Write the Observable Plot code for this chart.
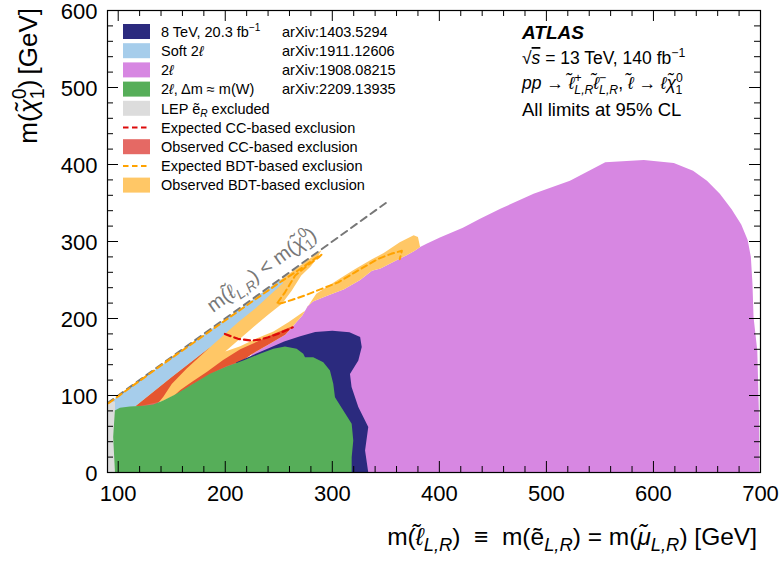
<!DOCTYPE html>
<html><head><meta charset="utf-8">
<script src="https://cdn.jsdelivr.net/npm/d3@7"></script>
<script src="https://cdn.jsdelivr.net/npm/@observablehq/plot@0.6"></script>
<style>
body{margin:0;background:#fff;}
svg{font-family:"Liberation Sans",Arial,Helvetica,sans-serif;}
</style></head><body><div id="chart"></div>
<script>
// ---------- data (GeV) ----------
const xMajorTicks = [100,200,300,400,500,600,700];
const yMajorTicks = [0,100,200,300,400,500,600];
const xMinorTicks = [120,140,160,180,220,240,260,280,320,340,360,380,420,440,460,480,520,540,560,580,620,640,660,680];
const yMinorTicks = [20,40,60,80,120,140,160,180,220,240,260,280,320,340,360,380,420,440,460,480,520,540,560,580];

// boundary shared by the 2l (purple) region and the BDT region above it
const purpleEdge = [[382,293],[377,288],[369.5,282],[360,275.5],[345,265],[337,262],[326,250],[311,238],[294,229],[282,222],[277,216],[272,204],[267,196],[262,188],[256,179],[240,166],[225,154]];
const purpleOuter = [[300,0],[699,0],[698.5,80],[697,158],[693.5,202],[692.5,245],[691,280],[688,302],[682,322],[673,342],[662,362],[650,379],[637,392],[619,402],[591,406],[555,403],[522,379],[488,362],[457,342.5],[438,329.5],[422,318],[401,305.6],[388,297]];
const purpleInner = [[220,140],[260,80]];

const bdtUpper = [[108,84],[100,96],[290,289],[286,279],[280,268],[271,256],[262,236],[253,219],[240,205],[228,191],[214,174],[200,157]];
const bdtLower = [[214,164],[228,173.5],[245,183],[259,195],[274.5,210],[285,232],[306,251],[321,264],[337,277],[348,285],[363,299],[376,308],[380,306]];
const bdtBottom = [[216,145],[201,138],[186,128],[170,115],[155,102],[142,93],[123,87]];

const ccLeft = [[116,86],[150,124],[186,163],[164,135],[150,115],[142,98],[136,88],[125,84]];
const ccRight = [[146,92],[158,107],[169,118],[183,131],[198,146],[214,160],[230,170],[245,180],[261,189],[262,188],[256,179],[240,166],[225,154],[216,145],[160,100]];

const soft2l = [[90,89],[252,251],[254,246],[228,213],[212,195],[186,163],[150,124],[116,86],[105,81],[90,78]];
const run1 = [[210,143],[225,152],[240,161],[255,170],[270,177],[284,182.5],[300,184],[316,182],[326,176],[327.5,163],[324.3,145.5],[316.5,128],[318,111],[324.3,85],[333.6,59],[330.6,28.6],[333.6,0],[300,0],[280,60],[230,120]];
const lep = [[89,0],[97,0],[97,92],[89,92]];
const mW = [[97,0],[95.3,46],[96.9,80.5],[101.6,84],[110.9,85.7],[123.4,86.6],[132.7,88.3],[142.1,93.5],[154.6,102.2],[170.1,115.2],[185.7,128.2],[201.3,137.7],[216.8,145.5],[232.4,154.2],[244.9,160.6],[255.8,163.6],[266.7,160.6],[272.9,154.2],[274.5,149.7],[282.2,149.7],[291.6,143.2],[297.8,132.5],[300.9,115.2],[302.5,97.8],[310.3,80.5],[318.1,63.2],[319.6,41.6],[318.1,19.9],[318.1,0]];

const expCC = [[199.7,180],[206,176.5],[212,173.6],[224.7,171.4],[232,172.5],[240.2,175.7],[249,180],[258.9,185.7],[263,188.5]];
const expBDT = [[91,90],[140,139],[180,178],[220,217],[250,246],[272,266],[284,278],[290,283],[287,279],[276,268],[265.3,255.8],[255.8,234],[248,219],[253,220],[262,224],[274.5,230],[290,238.5],[305.6,247],[321.2,260],[343,277.5],[355,284],[365,288],[363,277]];
const kinematic = [[90,90],[350,350]];

const legendLabels = [
  ["8 TeV, 20.3 fb",{t:"\u22121",sup:true}],
  ["Soft 2",{t:"\u2113",it:true}],
  ["2",{t:"\u2113",it:true}],
  ["2",{t:"\u2113",it:true},", \u0394m \u2248 m(W)"],
  ["LEP ",{t:"e\u0303"},{t:"R",sub:true,it:true}," excluded"],
  ["Expected CC-based exclusion"],
  ["Observed CC-based exclusion"],
  ["Expected BDT-based exclusion"],
  ["Observed BDT-based exclusion"]
];
const legendRefs = ["arXiv:1403.5294","arXiv:1911.12606","arXiv:1908.08215","arXiv:2209.13935","","","","",""];
const legendKinds = ["fill","fill","fill","fill","fill","line","fill","line","fill"];

const C = {
  navy:"#2b2a7e", blue:"#a6cdeb", purple:"#d787e2", green:"#56ae59", gray:"#dcdcdc",
  red:"rgb(216,28,20)", redLine:"#dd0a0a", orange:"#ffc766", orangeLine:"#ffa200", diag:"#777777"
};
const legendColors = [C.navy,C.blue,C.purple,C.green,C.gray,C.redLine,C.red,C.orangeLine,C.orange];
const legendOpacity = [1,1,1,1,1,1,0.66,1,1];

// ---------- chart ----------
const W = 784, H = 561, mL = 107, mR = 24, mT = 10, mB = 89;
const innerW = W - mL - mR, innerH = H - mT - mB;
const px = d => d[0], py = d => d[1];
function region(pts, color, op = 1) {
  return Plot.line(pts, {x: px, y: py, fill: color, fillOpacity: op, stroke: "none", curve: "linear-closed", clip: true});
}
const purple = [...purpleOuter, ...purpleEdge, ...purpleInner];
const bdt = [...bdtUpper, ...bdtLower, ...purpleEdge, ...bdtBottom];

const chart = Plot.plot({
  width: W, height: H,
  marginLeft: mL, marginRight: mR, marginTop: mT, marginBottom: mB,
  x: {domain: [90, 700], axis: null},
  y: {domain: [0, 600], axis: null},
  style: {background: "white", color: "black", fontFamily: "'Liberation Sans', Arial, sans-serif"},
  marks: [
    region(purple, C.purple),
    region(bdt, C.orange),
    region(ccLeft, C.red, 0.66),
    region(ccRight, C.red, 0.66),
    region(soft2l, C.blue),
    region(run1, C.navy),
    region(lep, C.gray),
    region(mW, C.green),
    Plot.line(kinematic, {x: px, y: py, stroke: C.diag, strokeWidth: 2, strokeDasharray: "7,5", clip: true}),
    Plot.line(expBDT, {x: px, y: py, stroke: C.orangeLine, strokeWidth: 2, strokeDasharray: "6,4", clip: true}),
    Plot.line(expCC, {x: px, y: py, stroke: C.redLine, strokeWidth: 2.2, strokeDasharray: "6,4", clip: true}),
    // inward ticks on all four sides
    Plot.ruleX(xMajorTicks, {x: d => d, stroke: "#000", insetTop: innerH - 11}),
    Plot.ruleX(xMajorTicks, {x: d => d, stroke: "#000", insetBottom: innerH - 11}),
    Plot.ruleX(xMinorTicks, {x: d => d, stroke: "#000", insetTop: innerH - 6}),
    Plot.ruleX(xMinorTicks, {x: d => d, stroke: "#000", insetBottom: innerH - 6}),
    Plot.ruleY(yMajorTicks, {y: d => d, stroke: "#000", insetRight: innerW - 11}),
    Plot.ruleY(yMajorTicks, {y: d => d, stroke: "#000", insetLeft: innerW - 11}),
    Plot.ruleY(yMinorTicks, {y: d => d, stroke: "#000", insetRight: innerW - 6}),
    Plot.ruleY(yMinorTicks, {y: d => d, stroke: "#000", insetLeft: innerW - 6}),
    Plot.frame({stroke: "#000", strokeWidth: 1.2}),
    Plot.text(xMajorTicks, {x: d => d, text: d => String(d), frameAnchor: "bottom", dy: 21, fontSize: 22, lineAnchor: "middle", fill: "#000"}),
    Plot.text(yMajorTicks, {y: d => d, text: d => String(d), frameAnchor: "left", dx: -10, dy: 1, textAnchor: "end", fontSize: 22, lineAnchor: "middle", fill: "#000"})
  ]
});
document.getElementById("chart").appendChild(chart);

// ---------- rich text helpers ----------
const svg = d3.select(chart);
function rich(parent, x, y, parts, fs, attrs = {}, scriptScale = 0.7) {
  const t = parent.append("text").attr("x", x).attr("y", y).attr("font-size", fs)
    .attr("fill", "#000").attr("text-anchor", "start");
  Object.entries(attrs).forEach(([k, v]) => t.attr(k, v));
  let cur = 0;
  for (const p of parts) {
    const s = typeof p === "string" ? {t: p} : p;
    const ts = t.append("tspan").text(s.t);
    const target = s.sup ? -0.42 * fs : s.sub ? 0.26 * fs : 0;
    if (target !== cur) ts.attr("dy", target - cur);
    cur = target;
    if (s.sup || s.sub) ts.attr("font-size", scriptScale * fs);
    if (s.it) ts.attr("font-style", "italic");
    if (s.bold) ts.attr("font-weight", "bold");
    if (s.dx) ts.attr("dx", s.dx * fs);
    if (s.deco) ts.attr("text-decoration", s.deco);
  }
  return t;
}
const LR = {t: "L,R", sub: true, it: true};
const slep = {t: "\u2113\u0303", it: true};
const chi = [{t: "\u03c7\u0303", it: true}, {t: "0", sup: true}, {t: "1", sub: true, dx: -0.42}];

// axis titles
rich(svg, W - 27, 545, ["m(", slep, LR, ")  \u2261  m(e\u0303", LR, ") = m(", {t: "\u03bc\u0303", it: true}, LR, ") [GeV]"], 24.5, {"text-anchor": "end"}, 0.75);
rich(svg, 0, 0, ["m(", ...chi, ")\u2009[GeV]"], 26, {"text-anchor": "end", transform: "translate(37,8) rotate(-90)"}, 0.75);

// legend
const lg = svg.append("g");
legendLabels.forEach((lab, i) => {
  const cy = 31.5 + i * 19.2;
  if (legendKinds[i] === "fill") {
    lg.append("rect").attr("x", 123).attr("y", cy - 7.5).attr("width", 27).attr("height", 15)
      .attr("fill", legendColors[i]).attr("fill-opacity", legendOpacity[i]);
  } else {
    lg.append("line").attr("x1", 123).attr("x2", 150).attr("y1", cy).attr("y2", cy)
      .attr("stroke", legendColors[i]).attr("stroke-width", 2).attr("stroke-dasharray", "5.5,3.5");
  }
  rich(lg, 161, cy + 5.2, lab, 14.5);
  if (legendRefs[i]) rich(lg, 282, cy + 5.2, [legendRefs[i]], 14.5);
});

// header block
const hx = 522;
rich(svg, hx, 39, [{t: "ATLAS", it: true, bold: true}], 19);
rich(svg, hx, 64, ["\u221a", {t: "s", it: true, deco: "overline"}, " = 13 TeV, 140 fb", {t: "\u22121", sup: true}], 17.5);
rich(svg, hx, 89, [{t: "pp", it: true}, " \u2192 ", slep, {t: "+", sup: true}, {t: "L,R", sub: true, it: true, dx: -0.41}, slep, {t: "\u2212", sup: true}, {t: "L,R", sub: true, it: true, dx: -0.41}, ", ", slep, " \u2192 ", {t: "\u2113", it: true}, ...chi], 17.5);
rich(svg, hx, 116, ["All limits at 95% CL"], 18.5);

// kinematic-limit label along the diagonal
const sx = chart.scale("x"), sy = chart.scale("y");
const ang = Math.atan2(sy.apply(300) - sy.apply(200), sx.apply(300) - sx.apply(200)) * 180 / Math.PI;
const lx = sx.apply(244), ly = sy.apply(244);
rich(svg, 0, -11, ["m(", slep, LR, ") < m(", ...chi, ")"], 20, {"text-anchor": "middle", fill: C.diag, transform: `translate(${lx},${ly}) rotate(${ang})`})
  .selectAll("tspan").attr("fill", C.diag);
</script></body></html>
